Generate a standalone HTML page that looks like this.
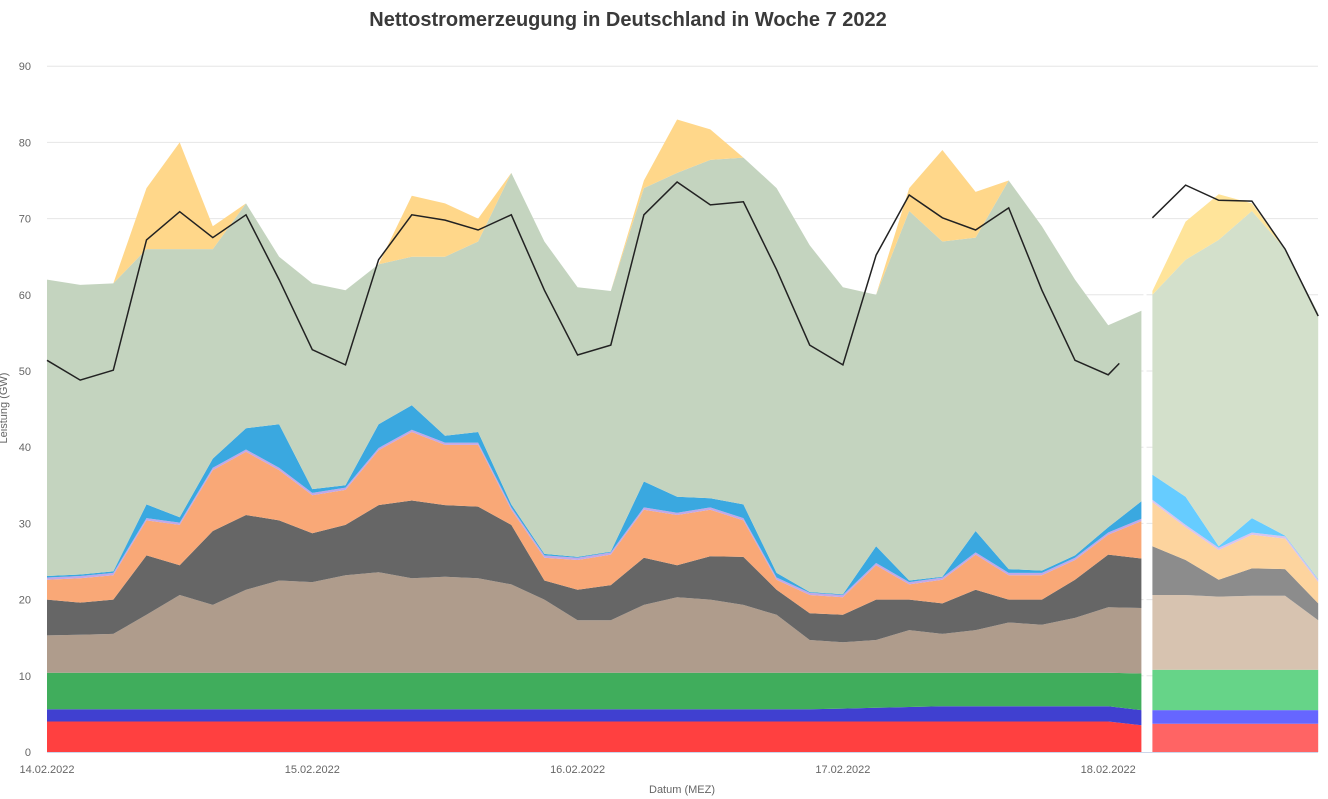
<!DOCTYPE html>
<html><head><meta charset="utf-8">
<style>
html,body{margin:0;padding:0;background:#fff;}
svg{display:block;font-family:"Liberation Sans",sans-serif;}
</style></head>
<body>
<svg id="chart" width="1328" height="799" viewBox="0 0 1328 799">
<text x="628" y="26" text-anchor="middle" font-size="20" font-weight="bold" fill="#3a3a3a">Nettostromerzeugung in Deutschland in Woche 7 2022</text>
<g id="grid"></g>
<g id="areas"></g>
<g id="lines"></g>
<g id="axes"></g>
<text x="682" y="793" text-anchor="middle" font-size="11" fill="#666">Datum (MEZ)</text>
<text transform="translate(7,408) rotate(-90)" text-anchor="middle" font-size="11" fill="#666">Leistung (GW)</text>
</svg>
<script>
const hours = [0,3,6,9,12,15,18,21,24,27,30,33,36,39,42,45,48,51,54,57,60,63,66,69,72,75,78,81,84,87,90,93,96,99];
const nuclear = [4,4,4,4,4,4,4,4,4,4,4,4,4,4,4,4,4,4,4,4,4,4,4,4,4,4,4,4,4,4,4,4,4,3.5];
const hydro = [1.6,1.6,1.6,1.6,1.6,1.6,1.6,1.6,1.6,1.6,1.6,1.6,1.6,1.6,1.6,1.6,1.6,1.6,1.6,1.6,1.6,1.6,1.6,1.6,1.7,1.8,1.9,2,2,2,2,2,2,2];
const biomass = [4.8,4.8,4.8,4.8,4.8,4.8,4.8,4.8,4.8,4.8,4.8,4.8,4.8,4.8,4.8,4.8,4.8,4.8,4.8,4.8,4.8,4.8,4.8,4.8,4.7,4.6,4.5,4.4,4.4,4.4,4.4,4.4,4.4,4.8];
const brownCoal = [4.9,5.0,5.1,7.6,10.2,8.9,10.9,12.1,11.9,12.8,13.2,12.4,12.6,12.4,11.6,9.6,6.9,6.9,8.9,9.9,9.6,8.9,7.6,4.3,4.0,4.3,5.6,5.1,5.6,6.6,6.3,7.2,8.6,8.6];
const hardCoal = [4.7,4.2,4.5,7.8,3.9,9.7,9.8,7.9,6.4,6.6,8.8,10.2,9.4,9.4,7.8,2.5,4.0,4.6,6.2,4.2,5.7,6.3,3.3,3.5,3.6,5.3,4.0,4.0,5.3,3.0,3.3,5.0,6.9,6.5];
const gas = [2.6,3.2,3.2,4.6,5.3,8,8.3,6.6,5,4.6,7.2,9,7.9,8.1,2,3,3.9,4,6.3,6.6,6.1,4.8,1.3,2.4,2.3,4.5,2,3.1,4.6,3.2,3.2,2.6,2.6,4.9];
const pumped = [0.3,0.3,0.3,0.3,0.3,0.3,0.3,0.3,0.3,0.3,0.3,0.3,0.3,0.3,0.3,0.3,0.3,0.3,0.3,0.3,0.3,0.3,0.3,0.3,0.3,0.3,0.3,0.3,0.3,0.3,0.3,0.3,0.3,0.3];
const other = [0.2,0.2,0.2,1.8,0.7,1.2,2.8,5.7,0.5,0.3,3.1,3.2,0.9,1.4,0.4,0.2,0.1,0.1,3.4,2.1,1.2,1.8,0.6,0.1,0.1,2.2,0.2,0.1,2.8,0.5,0.3,0.3,0.7,2.3];
const wind = [38.9,38,37.8,33.5,35.2,27.5,29.5,22,27,25.6,21,19.5,23.5,25,43.5,41,35.4,34.2,38.5,42.5,44.4,45.5,50.5,45.5,40.3,33,48.5,44,38.5,51,45.2,36.2,26.5,25];
const solar = [0,0,0,8,14,3,0,0,0,0,0,8,7,3,0,0,0,0,1,7,4,0,0,0,0,0,3,12,6,0,0,0,0,0];
const loadHours = [0,3,6,9,12,15,18,21,24,27,30,33,36,39,42,45,48,51,54,57,60,63,66,69,72,75,78,81,84,87,90,93,96,97];
const load = [51.4,48.8,50.1,67.2,70.9,67.5,70.5,62,52.8,50.8,64.6,70.5,69.8,68.5,70.5,60.6,52.1,53.4,70.5,74.8,71.8,72.2,63.3,53.4,50.8,65.2,73.1,70.1,68.5,71.4,60.6,51.4,49.5,51];

const fcHours = [100,103,106,109,112,115];
const fcNuclear = [3.7,3.7,3.7,3.7,3.7,3.7];
const fcHydro = [1.8,1.8,1.8,1.8,1.8,1.8];
const fcBiomass = [5.3,5.3,5.3,5.3,5.3,5.3];
const fcBrownCoal = [9.8,9.8,9.6,9.7,9.7,6.5];
const fcHardCoal = [6.4,4.6,2.2,3.6,3.5,2.2];
const fcGas = [5.8,4.3,3.9,4.4,4,2.8];
const fcPumped = [0.3,0.3,0.3,0.3,0.3,0.3];
const fcOther = [3.3,3.7,0.2,1.9,0.1,0.1];
const fcWind = [23.6,31.1,40.2,40.3,37.6,34.9];
const fcSolar = [0.5,5,6,1,0,0];
const fcLoad = [70.1,74.4,72.4,72.3,66,57.2];

const yTicks = [0,10,20,30,40,50,60,70,80,90];
const xTickLabels = ['14.02.2022','15.02.2022','16.02.2022','17.02.2022','18.02.2022'];

const X0=47, HOURPX=265.3/24, Y0=752, YPX=7.62;
const xs = h => X0 + h*HOURPX;
const ys = v => Y0 - v*YPX;
const NS='http://www.w3.org/2000/svg';
function mk(tag, attrs, parent){const e=document.createElementNS(NS,tag);for(const k in attrs)e.setAttribute(k,attrs[k]);parent.appendChild(e);return e;}

const grid=document.getElementById('grid');
const axes=document.getElementById('axes');
yTicks.forEach(t=>{
  if(t>0){const l=mk('line',{x1:47,x2:1318,y1:ys(t),y2:ys(t),stroke:'#e6e6e6','stroke-width':1},grid);
  
  }
  const tx=mk('text',{x:31,y:ys(t)+4,'text-anchor':'end','font-size':11,fill:'#666'},axes);
  tx.textContent=t;
  
  
});
const ax=mk('line',{x1:47,x2:1318,y1:Y0+0.5,y2:Y0+0.5,stroke:'#ccd6eb','stroke-width':1},axes);


xTickLabels.forEach((lab,i)=>{
  const tx=mk('text',{x:xs(i*24),y:773,'text-anchor':'middle','font-size':11,fill:'#666'},axes);
  tx.textContent=lab;
  
  
});

function drawStack(hs, layers, colors, names, prefix){
  const g=document.getElementById('areas');
  let base=hs.map(()=>0);
  layers.forEach((arr,li)=>{
    const top=base.map((b,i)=>b+arr[i]);
    let d='M'+hs.map((h,i)=>xs(h).toFixed(1)+','+ys(top[i]).toFixed(1)).join('L');
    for(let i=hs.length-1;i>=0;i--) d+='L'+xs(hs[i]).toFixed(1)+','+ys(base[i]).toFixed(1);
    d+='Z';
    const p=mk('path',{d:d,fill:colors[li],stroke:'none'},g);
    
    
    base=top;
  });
}
const names=['nuclear-area','hydro-area','biomass-area','brown-coal-area','hard-coal-area','gas-area','pumped-storage-area','other-area','wind-area','solar-area'];
drawStack(hours,[nuclear,hydro,biomass,brownCoal,hardCoal,gas,pumped,other,wind,solar],
 ['#ff4040','#4040d0','#40ad5c','#af9c8c','#666666','#f9a877','#c0a8e8','#3aa8e0','#c4d4bf','#ffd78a'],names,'');
drawStack(fcHours,[fcNuclear,fcHydro,fcBiomass,fcBrownCoal,fcHardCoal,fcGas,fcPumped,fcOther,fcWind,fcSolar],
 ['#ff6464','#6666ff','#66d488','#d7c3b0','#8c8c8c','#fdd49e','#d8c4ee','#66ccff','#d3e0cb','#ffe49a'],names,'forecast-');

const sep=mk('line',{x1:1145,x2:1145,y1:290,y2:752,stroke:'#fff','stroke-width':3},document.getElementById('areas'));



const lg=document.getElementById('lines');
const l1=mk('path',{d:'M'+loadHours.map((h,i)=>xs(h).toFixed(1)+','+ys(load[i]).toFixed(1)).join('L'),fill:'none',stroke:'#222','stroke-width':1.5},lg);


const l2=mk('path',{d:'M'+fcHours.map((h,i)=>xs(h).toFixed(1)+','+ys(fcLoad[i]).toFixed(1)).join('L'),fill:'none',stroke:'#222','stroke-width':1.5},lg);


</script>
</body></html>
